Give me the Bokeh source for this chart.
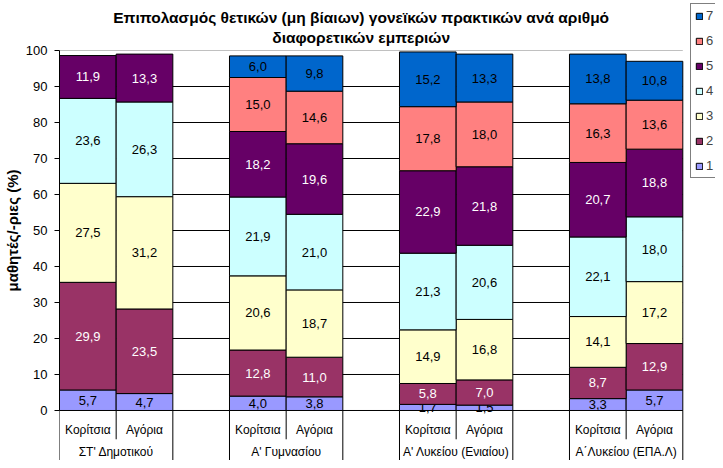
import numpy as np
from bokeh.plotting import figure
from bokeh.models import (ColumnDataSource, Range1d, FixedTicker, Legend,
                          LegendItem, Label)
from bokeh.core.properties import value
from bokeh.embed import file_html
from bokeh.resources import INLINE

# ---------------- data ----------------
title_line1 = "Επιπολασμός θετικών (μη βίαιων) γονεϊκών πρακτικών ανά αριθμό"
title_line2 = "διαφορετικών εμπεριών"
y_label = "μαθητές/-ριες (%)"

groups = ["ΣΤ' Δημοτικού", "Α' Γυμνασίου", "Α' Λυκείου (Ενιαίου)", "Α΄Λυκείου (ΕΠΑ.Λ)"]
genders = ["Κορίτσια", "Αγόρια"]
series_names = ["1", "2", "3", "4", "5", "6", "7"]

# order: (group, gender) = ΣΤ'K, ΣΤ'A, ΓυμK, ΓυμA, ΕνιK, ΕνιA, ΕΠΑK, ΕΠΑA
s1 = [5.7, 4.7, 4.0, 3.8, 1.7, 1.5, 3.3, 5.7]
s2 = [29.9, 23.5, 12.8, 11.0, 5.8, 7.0, 8.7, 12.9]
s3 = [27.5, 31.2, 20.6, 18.7, 14.9, 16.8, 14.1, 17.2]
s4 = [23.6, 26.3, 21.9, 21.0, 21.3, 20.6, 22.1, 18.0]
s5 = [11.9, 13.3, 18.2, 19.6, 22.9, 21.8, 20.7, 18.8]
s6 = [None, None, 15.0, 14.6, 17.8, 18.0, 16.3, 13.6]
s7 = [None, None, 6.0, 9.8, 15.2, 13.3, 13.8, 10.8]
series = [s1, s2, s3, s4, s5, s6, s7]

colors = ["#9999FF", "#993366", "#FFFFCC", "#CCFFFF", "#660066", "#FF8080", "#0066CC"]
label_colors = ["black", "white", "black", "black", "white", "black", "black"]
y_ticks = list(range(0, 101, 10))

FONT = "Liberation Sans"
GROUP_STRIDE = 3   # two bars + one empty slot per group

# slot positions
xpos = [g * GROUP_STRIDE + j for g in range(len(groups)) for j in range(len(genders))]
n_slots = len(groups) * GROUP_STRIDE - 1
X_LEFT, X_RIGHT = -0.5, n_slots - 0.5

# frame covers whole canvas right of the y axis; extra room for legend & titles
Y_MIN, Y_TOP = -13.89, 113.89
X_END = X_RIGHT + 0.577

p = figure(width=715, height=460,
           x_range=Range1d(X_LEFT, X_END), y_range=Range1d(Y_MIN, Y_TOP),
           output_backend="svg", toolbar_location=None, title=None,
           x_axis_type=None,
           min_border_left=52, min_border_right=0, min_border_top=0, min_border_bottom=0)
p.outline_line_color = None
p.background_fill_color = "white"
p.border_fill_color = "white"
p.grid.visible = False

# y axis
ax = p.yaxis[0]
ax.ticker = FixedTicker(ticks=y_ticks)
ax.bounds = (0, 100)
ax.axis_line_color = "black"
ax.major_tick_line_color = "black"
ax.major_tick_in = 0
ax.major_tick_out = 5
ax.minor_tick_line_color = None
ax.major_label_text_font = FONT
ax.major_label_text_font_size = "13px"
ax.major_label_text_color = "black"
ax.major_label_standoff = 7
ax.axis_label = y_label
ax.axis_label_text_font = FONT
ax.axis_label_text_font_size = "15px"
ax.axis_label_text_font_style = "bold"
ax.axis_label_text_color = "black"
ax.axis_label_standoff = 2

# horizontal grid lines across the plot area (under the bars)
inner = y_ticks[:-1]
p.segment(x0=[X_LEFT] * len(inner), y0=inner, x1=[X_RIGHT] * len(inner), y1=inner,
          line_color="black", line_width=1, level="underlay")
p.segment(x0=[X_LEFT], y0=[y_ticks[-1]], x1=[X_RIGHT], y1=[y_ticks[-1]],
          line_color="#C0C0C0", line_width=1, level="underlay")

# bars
cum = np.zeros(len(xpos))
renderers = []
for k, s in enumerate(series):
    vals = np.array([np.nan if v is None else v for v in s], dtype=float)
    mask = ~np.isnan(vals)
    bottoms = cum.copy()
    tops = cum + np.where(mask, vals, 0.0)
    src = ColumnDataSource(dict(
        x=[xpos[i] for i in range(len(xpos)) if mask[i]],
        bottom=bottoms[mask].tolist(),
        top=tops[mask].tolist(),
        mid=((bottoms[mask] + tops[mask]) / 2).tolist(),
        lab=[f"{v:.1f}".replace(".", ",") for v in vals[mask]],
    ))
    r = p.vbar(x="x", bottom="bottom", top="top", width=1.0, source=src,
               fill_color=colors[k], line_color="black", line_width=1)
    p.text(x="x", y="mid", text="lab", source=src, text_align="center",
           text_baseline="middle", text_font=value(FONT), text_font_size="13px",
           text_color=label_colors[k])
    renderers.append(r)
    cum = tops

# category axis (two levels) drawn below zero
sub_src = ColumnDataSource(dict(x=xpos, t=[genders[j] for g in range(len(groups)) for j in range(len(genders))]))
p.text(x="x", y=-5.3, text="t", source=sub_src, text_align="center", text_baseline="middle",
       text_font=value(FONT), text_font_size="12px", text_color="black")
grp_src = ColumnDataSource(dict(x=[g * GROUP_STRIDE + 0.5 for g in range(len(groups))], t=groups))
p.text(x="x", y=-11.6, text="t", source=grp_src, text_align="center", text_baseline="middle",
       text_font=value(FONT), text_font_size="12px", text_color="black")

# separators of the category axis
sx, sy1 = [], []
for b in range(n_slots + 1):
    xb = b - 0.5
    in_group = (b % GROUP_STRIDE) == 1   # boundary between two bars of a group
    sx.append(xb)
    sy1.append(-8.0 if in_group else Y_MIN)
p.segment(x0=sx, y0=[0] * len(sx), x1=sx, y1=sy1, line_color="black", line_width=1)

# legend (top right, reversed order)
items = [LegendItem(label=series_names[k], renderers=[renderers[k]]) for k in range(6, -1, -1)]
legend = Legend(items=items, location=(631, 282), orientation="vertical",
                border_line_color="black", border_line_width=1,
                background_fill_color="white", background_fill_alpha=1,
                glyph_width=8, glyph_height=8, label_standoff=3,
                label_text_font=FONT, label_text_font_size="13px",
                label_height=15, spacing=10, padding=4, margin=0)
p.add_layout(legend)

# two-line title
x_mid = (X_LEFT + X_RIGHT) / 2
for txt, off in [(title_line1, 33), (title_line2, 13)]:
    p.add_layout(Label(x=x_mid, y=100, x_offset=-10, y_offset=off, text=txt,
                       text_align="center", text_baseline="middle",
                       text_font=FONT, text_font_size="15.5px", text_font_style="bold",
                       text_color="black"))

open("out.html", "w").write(file_html(p, INLINE))
